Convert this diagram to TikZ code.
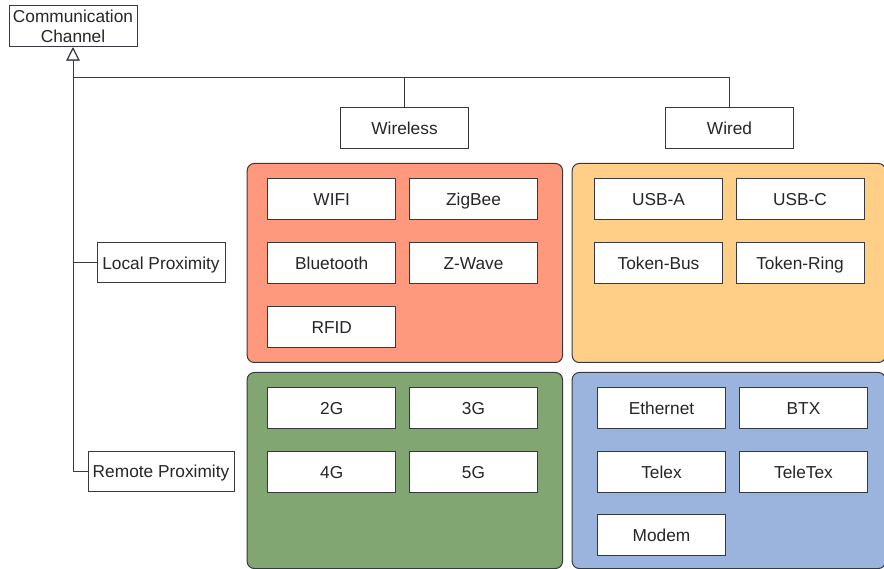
\documentclass[tikz,border=0pt]{standalone}
\usepackage{fontspec}
\setmainfont{Liberation Sans}
\usetikzlibrary{arrows.meta}
\definecolor{strk}{RGB}{54,57,61}
\definecolor{cred}{RGB}{255,153,126}
\definecolor{corange}{RGB}{255,206,135}
\definecolor{cgreen}{RGB}{130,166,113}
\definecolor{cblue}{RGB}{154,180,222}
\tikzset{
  basebox/.style={draw=strk, line width=1pt, fill=white, inner sep=0pt, minimum width=128pt, minimum height=41pt, align=center, text=black!85, font=\fontsize{17.3pt}{20pt}\selectfont},
  box/.style={basebox, text height=17.4pt, text depth=4pt},
  grp/.style={draw=strk, line width=1pt, rounded corners=7pt, inner sep=0pt},
  conn/.style={draw=strk, line width=1pt},
  inh/.style={conn, -{Triangle[open, length=13pt, width=13pt, fill=white]}}
}
\begin{document}
\begin{tikzpicture}[x=1pt, y=-1pt]
\useasboundingbox (0,0) rectangle (884,569);
% containers
\node[grp, fill=cred, anchor=north west, minimum width=315.3pt, minimum height=199pt] (gred) at (246.7,163) {};
\node[grp, fill=corange, anchor=north west, minimum width=313.3pt, minimum height=199pt] (gorange) at (571.7,163) {};
\node[grp, fill=cgreen, anchor=north west, minimum width=315.3pt, minimum height=196pt] (ggreen) at (246.7,372) {};
\node[grp, fill=cblue, anchor=north west, minimum width=313.3pt, minimum height=196pt] (gblue) at (571.7,372) {};
% top-level
\node[basebox, minimum height=41pt] (cc) at (73,26.5) {Communication\\Channel};
\node[box] (wl) at (404.5,128) {Wireless};
\node[box] (wd) at (729.5,128) {Wired};
\node[box, minimum height=40pt] (lp) at (161,263) {Local Proximity};
\node[box, minimum width=146pt, minimum height=40pt] (rp) at (161,471) {Remote Proximity};
% red
\node[box] (wifi) at (331.7,199) {WIFI};
\node[box] (zig) at (473.5,199) {ZigBee};
\node[box] (bt) at (331.7,263) {Bluetooth};
\node[box] (zw) at (473.5,263) {Z-Wave};
\node[box] (rfid) at (331.7,326.7) {RFID};
% orange
\node[box] (usba) at (658.5,199) {USB-A};
\node[box] (usbc) at (800,199) {USB-C};
\node[box] (tbus) at (658.5,263) {Token-Bus};
\node[box] (tring) at (800,263) {Token-Ring};
% green
\node[box] (g2) at (331.7,408) {2G};
\node[box] (g3) at (473.5,408) {3G};
\node[box] (g4) at (331.7,471.7) {4G};
\node[box] (g5) at (473.5,471.7) {5G};
% blue
\node[box] (eth) at (661.5,408) {Ethernet};
\node[box] (btx) at (803.5,408) {BTX};
\node[box] (telex) at (661.5,471.7) {Telex};
\node[box] (ttex) at (803.5,471.7) {TeleTex};
\node[box] (modem) at (661.5,535) {Modem};
% connectors
\draw[inh] (wl.north) |- (73,78) -- (cc.south);
\draw[inh] (wd.north) |- (73,78) -- (cc.south);
\draw[inh] (lp.west) -| (cc.south);
\draw[inh] (rp.west) -| (cc.south);
\end{tikzpicture}
\end{document}
